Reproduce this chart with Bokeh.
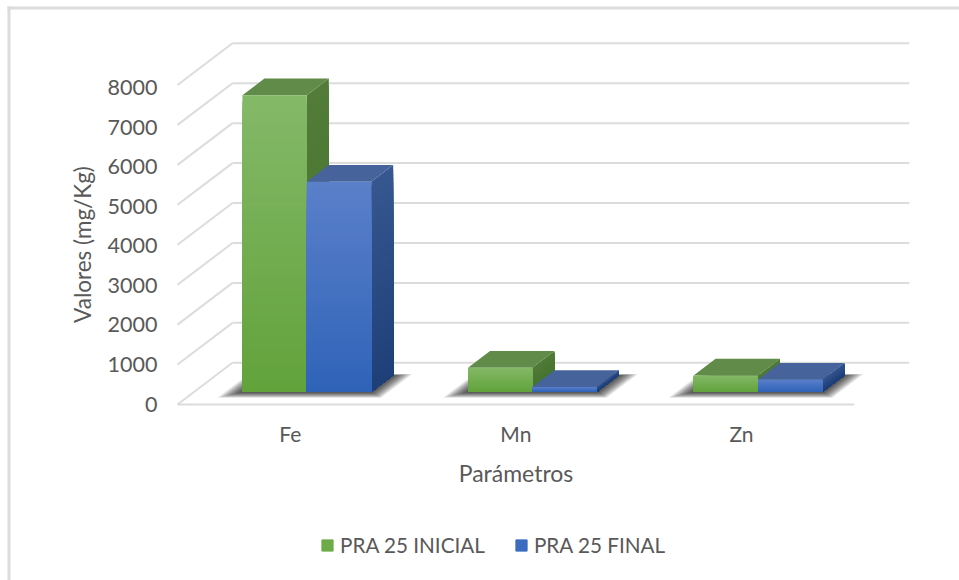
from bokeh.embed import file_html
from bokeh.models import (BoxAnnotation, FixedTicker, Label, Legend, LegendItem,
                          Range1d)
from bokeh.plotting import figure
from bokeh.resources import INLINE

categories = ["Fe", "Mn", "Zn"]
inicial = [7430, 610, 415]
final = [5265, 125, 310]
series_names = ["PRA 25 INICIAL", "PRA 25 FINAL"]
y_ticks = [0, 1000, 2000, 3000, 4000, 5000, 6000, 7000, 8000]
y_title = "Valores (mg/Kg)"
x_title = "Parámetros"

FONT = "Lato"
TEXT = "#595959"
GRID = "#dcdcdc"

# Page layout in pixels; the frame fills the page and the axes are pinned inside it
W, H = 959, 580
PX_PER_CAT, PX_PER_UNIT = 225.6, 39.94 / 1000
CAT0_PX, ZERO_PX = 289.8, 404

x_start = -CAT0_PX / PX_PER_CAT
x_end = (W - CAT0_PX) / PX_PER_CAT
y_end = ZERO_PX / PX_PER_UNIT
y_start = (ZERO_PX - H) / PX_PER_UNIT

# Tick labels follow their own slightly tighter scale along the front edge
LABEL_ZERO_PX, LABEL_PX_PER_UNIT = 403.5, 39.56 / 1000
label_range = Range1d((LABEL_ZERO_PX - H) / LABEL_PX_PER_UNIT, LABEL_ZERO_PX / LABEL_PX_PER_UNIT)

# Oblique projection: one full unit of depth moves a point right and up
DEPTH_X = 55 / PX_PER_CAT
DEPTH_Y = 41.7 / PX_PER_UNIT
BAR_W = 64.4 / PX_PER_CAT
DEPTH_FRONT, DEPTH_BACK = 0.3, 0.7
AREA_L, AREA_R = -0.5, 2.5


def proj(x, v, d):
    return x + d * DEPTH_X, v + d * DEPTH_Y


def x_px(px):
    return x_start + px / PX_PER_CAT


def y_px(px):
    return (ZERO_PX - px) / PX_PER_UNIT


def mix(a, b, t):
    ca = [int(a[i:i + 2], 16) for i in (1, 3, 5)]
    cb = [int(b[i:i + 2], 16) for i in (1, 3, 5)]
    return "#%02x%02x%02x" % tuple(round(p + (q - p) * t) for p, q in zip(ca, cb))


p = figure(width=W, height=H, output_backend="svg", toolbar_location=None,
           x_range=Range1d(x_start, x_end), y_range=Range1d(y_start, y_end),
           min_border=0, outline_line_color=None,
           background_fill_color="white", border_fill_color="white")
p.extra_y_ranges = {"labels": label_range}
p.grid.visible = False

# Value axis
p.yaxis.y_range_name = "labels"
p.yaxis.fixed_location = x_px(172)
p.yaxis.ticker = FixedTicker(ticks=y_ticks)
p.yaxis.axis_line_color = None
p.yaxis.major_tick_line_color = None
p.yaxis.minor_tick_line_color = None
p.yaxis.major_tick_out = 0
p.yaxis.major_label_standoff = 15
p.yaxis.major_label_text_font = FONT
p.yaxis.major_label_text_font_size = "21.5px"
p.yaxis.major_label_text_color = TEXT

# Category axis
p.xaxis.fixed_location = y_px(412)
p.xaxis.ticker = FixedTicker(ticks=list(range(len(categories))))
p.xaxis.major_label_overrides = {i: c for i, c in enumerate(categories)}
p.xaxis.axis_line_color = None
p.xaxis.major_tick_line_color = None
p.xaxis.minor_tick_line_color = None
p.xaxis.major_tick_out = 0
p.xaxis.major_label_standoff = 8
p.xaxis.major_label_text_font = FONT
p.xaxis.major_label_text_font_size = "21px"
p.xaxis.major_label_text_color = TEXT

# Back wall, side wall and floor lines
back_x, back_y, side_x, side_y = [], [], [], []
for t in y_ticks:
    x0, y0 = proj(AREA_L, t, 1)
    x1, y1 = proj(AREA_R, t, 1)
    back_x.append([x0, x1])
    back_y.append([y0, y1])
    sx, sy = proj(AREA_L, t, 0)
    side_x.append([sx, x0])
    side_y.append([sy, y0])
p.multi_line(back_x, back_y, line_color=GRID, line_width=2)
p.multi_line(side_x, side_y, line_color=GRID, line_width=2)
p.line([AREA_L, AREA_R], [0, 0], line_color=GRID, line_width=2)


def footprint(left, right, front, back):
    corners = [(left, front), (right, front), (right, back), (left, back)]
    pts = [proj(x, 0, d) for x, d in corners]
    return [q[0] for q in pts], [q[1] for q in pts]


# Soft contact shadow on the floor under each pair of bars
LAYERS = 14
for i in range(len(categories)):
    for k in range(LAYERS, 0, -1):
        m = k / LAYERS
        xs, ys = footprint(i - BAR_W - 0.078 * m, i + BAR_W + 0.078 * m,
                           DEPTH_FRONT - 0.14 * m, DEPTH_BACK + 0.03 * m)
        p.patch(xs, ys, fill_color="#000000", fill_alpha=0.07, line_color=None)

STYLES = [
    dict(front=("#84b968", "#62a23b"), side=("#527c38", "#447430"), top="#618b49"),
    dict(front=("#5b80ca", "#2f63b8"), side=("#36578f", "#1e3f78"), top="#47639c"),
]
SLICES = 48


def draw_bar(value, left, style):
    right = left + BAR_W
    # Each band reaches down to the base and the shorter ones are painted later,
    # so the shading has no seams between bands
    order = list(range(SLICES - 1, -1, -1))
    tops = [value * (s + 1) / SLICES for s in order]
    front_colors = [mix(style["front"][1], style["front"][0], (s + 0.5) / SLICES) for s in order]
    side_colors = [mix(style["side"][1], style["side"][0], (s + 0.5) / SLICES) for s in order]

    fl = proj(left, 0, DEPTH_FRONT)[0]
    fr = proj(right, 0, DEPTH_FRONT)[0]
    base = proj(left, 0, DEPTH_FRONT)[1]

    sxs, sys = [], []
    for t in tops:
        a = proj(right, 0, DEPTH_FRONT)
        b = proj(right, 0, DEPTH_BACK)
        c = proj(right, t, DEPTH_BACK)
        d = proj(right, t, DEPTH_FRONT)
        sxs.append([a[0], b[0], c[0], d[0]])
        sys.append([a[1], b[1], c[1], d[1]])
    p.patches(sxs, sys, fill_color=side_colors, line_color=None)

    corners = [(left, DEPTH_FRONT), (right, DEPTH_FRONT), (right, DEPTH_BACK), (left, DEPTH_BACK)]
    pts = [proj(x, value, d) for x, d in corners]
    p.patch([q[0] for q in pts], [q[1] for q in pts], fill_color=style["top"], line_color=None)

    ft = [proj(left, t, DEPTH_FRONT)[1] for t in tops]
    p.quad(left=[fl] * SLICES, right=[fr] * SLICES, bottom=[base] * SLICES, top=ft,
           fill_color=front_colors, line_color=None)


for i in range(len(categories)):
    draw_bar(inicial[i], i - BAR_W, STYLES[0])
    draw_bar(final[i], i, STYLES[1])

# Legend swatches use the mid tone of each series; their glyphs sit off the scale
nan = float("nan")
sw_a = p.quad(left=[nan], right=[nan], bottom=[nan], top=[nan], fill_color="#6cab48", line_color="#6cab48")
sw_b = p.quad(left=[nan], right=[nan], bottom=[nan], top=[nan], fill_color="#3c6cbf", line_color="#3c6cbf")
legend = Legend(items=[LegendItem(label=series_names[0], renderers=[sw_a]),
                       LegendItem(label=series_names[1], renderers=[sw_b])],
                orientation="horizontal", location=(320, 23),
                background_fill_alpha=0, border_line_color=None,
                label_text_font=FONT, label_text_font_size="20.7px",
                label_text_color=TEXT, glyph_width=14, glyph_height=14,
                label_standoff=6, spacing=29, margin=0, padding=4)
p.add_layout(legend, "center")

# Titles of both axes are centred on the chart area, not on the whole page
p.add_layout(Label(x=x_px(82), y=y_px(244), text=y_title, angle=90, angle_units="deg",
                   text_align="center", text_baseline="middle", text_font=FONT,
                   text_font_size="22.5px", text_color=TEXT))
p.add_layout(Label(x=x_px(515.5), y=y_px(472), text=x_title,
                   text_align="center", text_baseline="middle", text_font=FONT,
                   text_font_size="23px", text_color=TEXT))

# Chart-area border, open on the right and at the bottom
p.add_layout(BoxAnnotation(left=x_px(7), right=x_px(10), top=y_px(6), bottom=y_px(580),
                           fill_color=GRID, fill_alpha=1, line_color=None))
p.add_layout(BoxAnnotation(left=x_px(7), right=x_px(959), top=y_px(6), bottom=y_px(9),
                           fill_color=GRID, fill_alpha=1, line_color=None))

open("out.html", "w").write(file_html(p, INLINE))
